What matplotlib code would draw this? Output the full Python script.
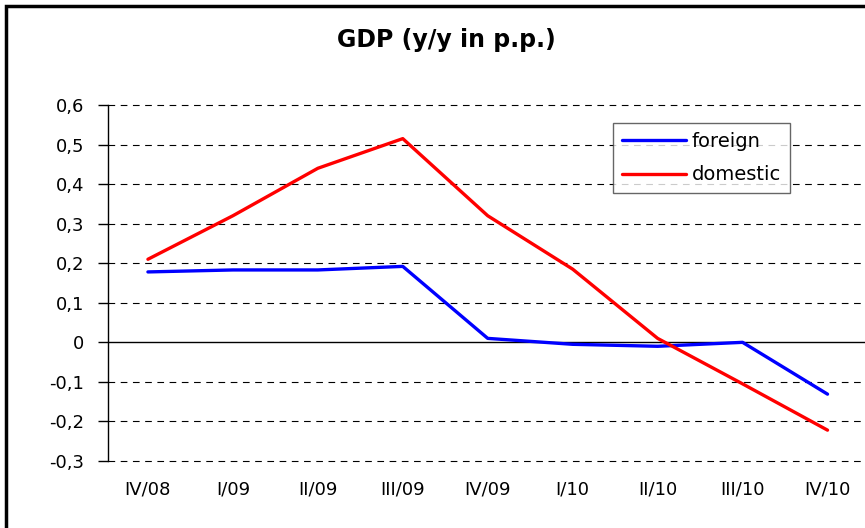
import matplotlib.pyplot as plt
from matplotlib.patches import Rectangle

plt.rcParams['font.family'] = ['DejaVu Sans']

# Квартальные данные
quarters = ['IV/08', 'I/09', 'II/09', 'III/09', 'IV/09', 'I/10', 'II/10', 'III/10', 'IV/10']
foreign = [0.178, 0.183, 0.183, 0.192, 0.010, -0.005, -0.010, 0.000, -0.131]
domestic = [0.210, 0.320, 0.440, 0.515, 0.320, 0.185, 0.010, -0.105, -0.222]
yticks = [-0.3, -0.2, -0.1, 0, 0.1, 0.2, 0.3, 0.4, 0.5, 0.6]

W, H = 865, 528
fig = plt.figure(figsize=(W / 100, H / 100), dpi=100)

# рамка вокруг всего графика
fig.patches.append(Rectangle((6 / W, -0.2), 1.2, 1.2 - 6 / H, transform=fig.transFigure,
                             fill=False, edgecolor='black', linewidth=2.5))

fig.text(446 / W, 1 - 40 / H, 'GDP (y/y in p.p.)', fontsize=17, fontweight='bold',
         ha='center', va='center')

ax = fig.add_axes([108 / W, 1 - 461 / H, 762 / W, 356 / H])
x = list(range(len(quarters)))
ax.plot(x, foreign, color='#0000ff', linewidth=2.4, label='foreign', solid_capstyle='round')
ax.plot(x, domestic, color='#ff0000', linewidth=2.4, label='domestic', solid_capstyle='round')

ax.set_xlim(-0.47, 8.5)
ax.set_ylim(-0.3, 0.6)
ax.set_yticks(yticks)
ax.set_yticklabels([('%g' % v).replace('.', ',') for v in yticks], fontsize=13)
ax.set_xticks(x)
ax.set_xticklabels(quarters, fontsize=13)
ax.tick_params(axis='x', length=0, pad=14)
ax.tick_params(axis='y', direction='out', length=7, width=1, pad=10)

# пунктирная сетка и сплошная линия нуля
for v in yticks:
    if v != 0:
        ax.axhline(v, color='black', linewidth=0.8, linestyle=(0, (6, 5)), zorder=0, clip_on=False)
ax.axhline(0, color='black', linewidth=1, zorder=1)

for s in ['top', 'right', 'bottom']:
    ax.spines[s].set_visible(False)
ax.spines['left'].set_linewidth(1)

leg = ax.legend(loc='upper left', bbox_to_anchor=((613 - 108) / 762, (461 - 123) / 356),
                fontsize=14, frameon=True, fancybox=False, borderpad=0.45,
                handlelength=3.3, handletextpad=0.3, labelspacing=0.75, borderaxespad=0)
leg.get_frame().set_edgecolor('#404040')
leg.get_frame().set_linewidth(1)

fig.savefig('out.png', dpi=100)
